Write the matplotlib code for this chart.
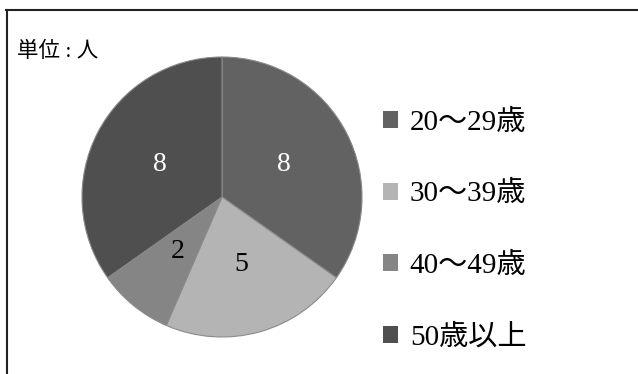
import matplotlib.pyplot as plt
from matplotlib.lines import Line2D
from matplotlib.patches import Patch

# 年代別の人数
labels = ['20～29歳', '30～39歳', '40～49歳', '50歳以上']
counts = [8, 5, 2, 8]
colors = ['#626262', '#b4b4b4', '#858585', '#4f4f4f']
text_colors = ['white', 'black', 'black', 'white']

font = ['Liberation Serif', 'Noto Sans CJK JP']

fig = plt.figure(figsize=(6.38, 3.74), dpi=100)
W, H = 638, 374

# 円グラフ本体 (中心 222,197 半径 140px)
ax = fig.add_axes([82 / W, 37 / H, 280 / W, 280 / H])
wedges, texts = ax.pie(counts, colors=colors, startangle=90, counterclock=False,
                       labels=[str(c) for c in counts], labeldistance=0.5,
                       wedgeprops=dict(edgecolor='#8a8a8a', linewidth=0.8))
for t, c in zip(texts, text_colors):
    t.set_color(c)
    t.set_fontsize(20)
    t.set_family(font)
    t.set_ha('center')
    t.set_va('center')
ax.set_xlim(-1, 1)
ax.set_ylim(-1, 1)
ax.set_aspect('equal')
ax.axis('off')

# 凡例 (枠線なしの四角)
handles = [Patch(facecolor=c, edgecolor='none') for c in colors]
leg = fig.legend(handles, labels, loc='upper left', bbox_to_anchor=(383 / W, 1 - 110 / H),
                 frameon=False, prop={'family': font, 'size': 21},
                 handlelength=0.52, handleheight=0.52, handletextpad=0.4,
                 labelspacing=1.55, borderpad=0, borderaxespad=0)

fig.text(17 / W, 1 - 52 / H, '単位 : 人', family=font, fontsize=15.5, va='center', ha='left')

# 枠線 (上と左)
fig.add_artist(Line2D([6 / W, 1], [1 - 10 / H, 1 - 10 / H], color='#222222', linewidth=1.5))
fig.add_artist(Line2D([7 / W, 7 / W], [0, 1 - 10 / H], color='#222222', linewidth=1.5))

fig.savefig('out.png', dpi=100)
